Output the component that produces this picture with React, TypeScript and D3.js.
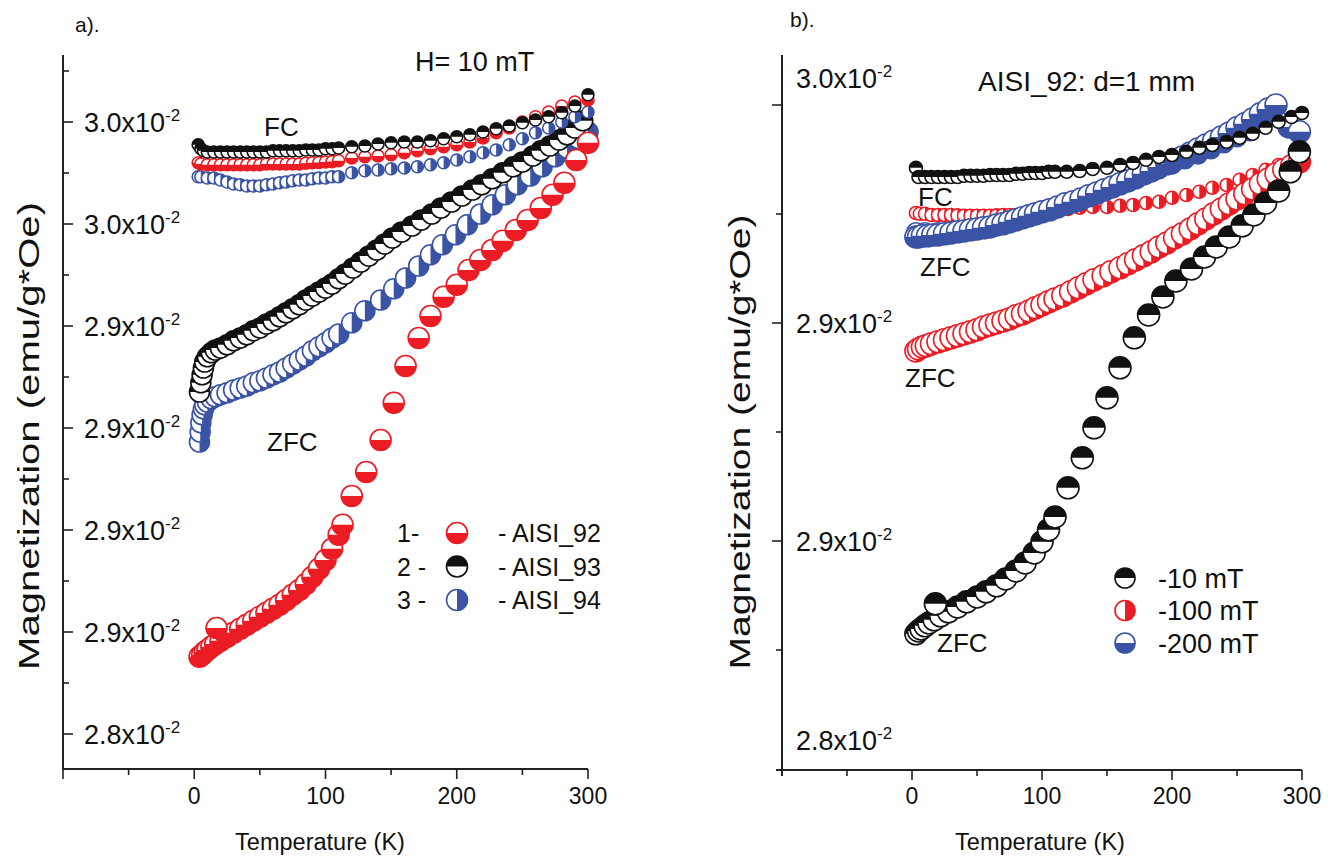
import React from "react";
import * as d3 from "d3";

type Pt = [number, number];
type Side = "top" | "bottom" | "left" | "right";

// ---------------- Panel a data: [T (K), M (x10^-2 emu/g*Oe)] ----------------
const aisi92ZFC: Pt[] = [
  [4, 2.8563], [6, 2.8568], [8, 2.8575], [10, 2.858], [13, 2.8588], [16, 2.8595], [20, 2.8603],
  [25, 2.8613], [30, 2.8623], [35, 2.8633], [40, 2.8643], [45, 2.8653], [50, 2.8663], [55, 2.8673],
  [60, 2.8683], [65, 2.8693], [70, 2.8705], [75, 2.8718], [80, 2.873], [85, 2.8745], [90, 2.8763],
  [95, 2.8783], [100, 2.8805], [105, 2.8833], [110, 2.8868], [113, 2.8893], [120, 2.8965],
  [131, 2.9025], [142, 2.9105], [152, 2.9198], [161, 2.929], [171, 2.936], [180, 2.9415],
  [190, 2.9463], [200, 2.9493], [209, 2.953], [218, 2.9555], [227, 2.958], [235, 2.9603],
  [245, 2.963], [254, 2.9655], [264, 2.9685], [273, 2.9718], [282, 2.9748], [291, 2.9805],
  [300, 2.9848], [17, 2.8635],
];
const aisi93ZFC: Pt[] = [
  [4, 2.9225], [5, 2.9248], [6, 2.9268], [7, 2.9285], [8, 2.93], [10, 2.9313], [13, 2.9323],
  [16, 2.933], [20, 2.9335], [25, 2.9343], [30, 2.9353], [35, 2.936], [40, 2.9368], [45, 2.9378],
  [50, 2.9385], [55, 2.9395], [60, 2.9403], [65, 2.9413], [70, 2.9423], [75, 2.9433], [80, 2.9443],
  [85, 2.9455], [90, 2.9465], [95, 2.9475], [100, 2.9485], [105, 2.9495], [110, 2.9508],
  [115, 2.952], [121, 2.9535], [127, 2.955], [133, 2.9565], [139, 2.958], [145, 2.9595],
  [151, 2.961], [158, 2.9625], [166, 2.964], [173, 2.9655], [181, 2.967], [188, 2.9685],
  [196, 2.97], [204, 2.9715], [212, 2.973], [219, 2.9743], [227, 2.9758], [235, 2.9773],
  [243, 2.9788], [250, 2.98], [258, 2.9815], [264, 2.9828], [271, 2.984], [278, 2.9855],
  [284, 2.9868], [290, 2.9885], [296, 2.9903],
];
const aisi94ZFC: Pt[] = [
  [4, 2.91], [4.5, 2.9125], [5, 2.9148], [6, 2.9168], [7, 2.9183], [8, 2.9193], [10, 2.92],
  [13, 2.9208], [16, 2.9213], [20, 2.9218], [25, 2.9223], [30, 2.923], [35, 2.9235], [40, 2.924],
  [45, 2.9248], [50, 2.9253], [55, 2.926], [60, 2.9268], [65, 2.9275], [70, 2.9285], [75, 2.9295],
  [80, 2.9305], [85, 2.9315], [90, 2.9328], [95, 2.9338], [100, 2.9348], [105, 2.936], [110, 2.937],
  [120, 2.9398], [130, 2.9428], [142, 2.9455], [152, 2.9483], [161, 2.951], [171, 2.954],
  [180, 2.9568], [189, 2.9593], [199, 2.9618], [208, 2.9643], [218, 2.967], [227, 2.9693],
  [237, 2.9718], [246, 2.9743], [256, 2.9765], [265, 2.9788], [275, 2.9813], [284, 2.9835],
  [293, 2.9858], [300, 2.9875],
];
const aisi93FC: Pt[] = [
  [3, 2.9843], [5, 2.9833], [7, 2.9828], [10, 2.9825], [15, 2.9825], [20, 2.9825], [25, 2.9825],
  [30, 2.9825], [35, 2.9825], [40, 2.9825], [45, 2.9825], [50, 2.9825], [55, 2.9825], [60, 2.9828],
  [65, 2.9828], [70, 2.9828], [75, 2.9828], [80, 2.9828], [85, 2.983], [90, 2.983], [95, 2.983],
  [100, 2.9833], [105, 2.9833], [110, 2.9835], [120, 2.9838], [130, 2.984], [140, 2.9845],
  [150, 2.9848], [160, 2.985], [170, 2.985], [180, 2.9853], [190, 2.9858], [200, 2.9863],
  [210, 2.9868], [220, 2.9875], [230, 2.9883], [240, 2.989], [250, 2.9898], [260, 2.9905],
  [270, 2.9913], [280, 2.9923], [290, 2.994], [300, 2.9968],
];
const aisi92FC: Pt[] = [
  [3, 2.9798], [5, 2.9795], [10, 2.9793], [15, 2.9793], [20, 2.9793], [25, 2.9793], [30, 2.9793],
  [35, 2.9793], [40, 2.9793], [45, 2.9793], [50, 2.9793], [55, 2.9795], [60, 2.9795], [65, 2.9795],
  [70, 2.9795], [75, 2.9795], [80, 2.9795], [85, 2.9797], [90, 2.9798], [95, 2.9799], [100, 2.98],
  [105, 2.9801], [110, 2.9803], [120, 2.981], [130, 2.9813], [140, 2.9815], [150, 2.9818],
  [160, 2.9823], [170, 2.9828], [180, 2.9833], [190, 2.9838], [200, 2.9843], [210, 2.985],
  [220, 2.986], [230, 2.9873], [240, 2.9885], [250, 2.99], [260, 2.9913], [270, 2.9925],
  [280, 2.994], [290, 2.995], [300, 2.9955],
];
const aisi94FC: Pt[] = [
  [3, 2.9763], [5, 2.9763], [10, 2.976], [15, 2.976], [20, 2.9755], [25, 2.975], [30, 2.9745],
  [35, 2.9743], [40, 2.974], [45, 2.974], [50, 2.974], [55, 2.9743], [60, 2.9745], [65, 2.9748],
  [70, 2.975], [75, 2.9753], [80, 2.9755], [85, 2.9755], [90, 2.9758], [95, 2.976], [100, 2.976],
  [105, 2.9763], [110, 2.9763], [120, 2.9773], [130, 2.9778], [140, 2.978], [150, 2.9783],
  [160, 2.9785], [170, 2.9788], [180, 2.9793], [190, 2.9798], [200, 2.9805], [210, 2.9813],
  [220, 2.9823], [230, 2.983], [240, 2.9843], [250, 2.9858], [260, 2.9873], [270, 2.9885],
  [280, 2.99], [290, 2.9913], [300, 2.9925],
];

// ---------------- Panel b data: AISI_92, d = 1 mm ----------------
const m10ZFC: Pt[] = [
  [3, 2.8478], [5, 2.8485], [7, 2.849], [10, 2.8498], [13, 2.8505], [17, 2.8513], [22, 2.8523],
  [28, 2.8533], [35, 2.8545], [42, 2.8558], [50, 2.857], [57, 2.8583], [65, 2.8598], [72, 2.8615],
  [80, 2.8635], [87, 2.8655], [94, 2.868], [100, 2.8708], [105, 2.8738], [110, 2.877],
  [120, 2.8843], [131, 2.8918], [140, 2.8993], [150, 2.9068], [160, 2.9143], [171, 2.9218],
  [182, 2.9275], [193, 2.932], [203, 2.936], [215, 2.939], [225, 2.942], [234, 2.9445],
  [244, 2.947], [254, 2.9498], [263, 2.9525], [272, 2.9555], [282, 2.9585], [291, 2.9633],
  [298, 2.9683], [18, 2.8553],
];
const m10FC: Pt[] = [
  [3, 2.9643], [5, 2.962], [10, 2.962], [15, 2.962], [20, 2.962], [25, 2.962], [30, 2.962],
  [35, 2.962], [40, 2.9623], [45, 2.9623], [50, 2.9623], [55, 2.9623], [60, 2.9625], [65, 2.9625],
  [70, 2.9625], [75, 2.9625], [80, 2.9628], [85, 2.9628], [90, 2.963], [95, 2.963], [100, 2.963],
  [105, 2.9633], [110, 2.9633], [119, 2.9633], [129, 2.9635], [139, 2.964], [150, 2.9643],
  [160, 2.965], [170, 2.9655], [180, 2.9663], [190, 2.967], [200, 2.9675], [211, 2.9683],
  [221, 2.9693], [231, 2.97], [242, 2.9708], [252, 2.9718], [262, 2.9728], [272, 2.9743],
  [282, 2.9758], [292, 2.977], [300, 2.978],
];
const m100ZFC: Pt[] = [
  [3, 2.9185], [5, 2.919], [8, 2.9195], [11, 2.9198], [15, 2.9203], [20, 2.9208], [25, 2.9213],
  [30, 2.9218], [35, 2.9223], [40, 2.9228], [45, 2.9233], [50, 2.9238], [55, 2.9245], [60, 2.925],
  [65, 2.9255], [70, 2.926], [75, 2.9265], [80, 2.9273], [85, 2.9278], [90, 2.9285], [95, 2.9293],
  [100, 2.93], [105, 2.9308], [110, 2.9315], [116, 2.9323], [122, 2.9333], [128, 2.9343],
  [134, 2.9353], [140, 2.9363], [147, 2.9373], [153, 2.9383], [160, 2.9393], [166, 2.9403],
  [172, 2.9413], [178, 2.9423], [184, 2.9433], [190, 2.9445], [196, 2.9455], [202, 2.9468],
  [208, 2.9478], [214, 2.949], [220, 2.9503], [226, 2.9515], [232, 2.9528], [238, 2.954],
  [244, 2.9553], [250, 2.9565], [256, 2.9578], [262, 2.959], [268, 2.9603], [274, 2.9615],
  [280, 2.9628], [286, 2.9638], [292, 2.9648], [298, 2.9658],
];
const m100FC: Pt[] = [
  [3, 2.953], [6, 2.9528], [10, 2.9528], [15, 2.9525], [20, 2.9525], [25, 2.9525], [30, 2.9525],
  [35, 2.9524], [40, 2.9523], [45, 2.9523], [50, 2.9523], [55, 2.9523], [60, 2.9523], [65, 2.9524],
  [70, 2.9525], [75, 2.9525], [80, 2.9525], [85, 2.9527], [90, 2.9528], [95, 2.953], [100, 2.9533],
  [110, 2.9535], [120, 2.954], [129, 2.9543], [139, 2.9545], [150, 2.9545], [160, 2.9548],
  [170, 2.955], [180, 2.9555], [190, 2.9558], [200, 2.9568], [211, 2.9575], [221, 2.9583],
  [231, 2.9593], [242, 2.96], [252, 2.9613], [262, 2.9625], [272, 2.9638], [282, 2.965],
  [292, 2.9658], [299, 2.9663],
];
const m200ZFC: Pt[] = [
  [3, 2.947], [5, 2.947], [8, 2.9473], [12, 2.9473], [16, 2.9475], [20, 2.9475], [25, 2.9478],
  [30, 2.948], [35, 2.9483], [40, 2.9485], [45, 2.9488], [50, 2.949], [55, 2.9493], [60, 2.9495],
  [65, 2.95], [70, 2.9503], [75, 2.9508], [80, 2.9513], [85, 2.9518], [90, 2.9523], [95, 2.9528],
  [100, 2.9533], [106, 2.9538], [112, 2.9545], [118, 2.9553], [124, 2.9558], [130, 2.9565],
  [136, 2.9573], [142, 2.958], [148, 2.9588], [154, 2.9595], [160, 2.9603], [166, 2.961],
  [172, 2.9618], [178, 2.9628], [184, 2.9635], [190, 2.9645], [196, 2.9653], [202, 2.9663],
  [208, 2.967], [214, 2.968], [220, 2.969], [226, 2.97], [232, 2.971], [238, 2.972], [244, 2.973],
  [250, 2.9743], [256, 2.9753], [262, 2.9765], [268, 2.9778], [274, 2.979], [280, 2.98],
  [290, 2.9745], [298, 2.9733],
];
const m200FC: Pt[] = [
  [3, 2.9483], [10, 2.9483], [20, 2.9483], [30, 2.9485], [40, 2.9488], [50, 2.9493], [60, 2.9498],
  [70, 2.9505], [80, 2.9513], [90, 2.952], [100, 2.953], [110, 2.954], [120, 2.955], [130, 2.9563],
  [140, 2.9575], [150, 2.9588], [160, 2.96], [170, 2.9613], [180, 2.9625], [190, 2.9638],
  [200, 2.965], [210, 2.9663], [220, 2.9675], [230, 2.9688], [240, 2.9703], [250, 2.9718],
  [260, 2.9733], [270, 2.9753], [280, 2.9773],
];

// ---------------- Axis ticks ----------------
const xMajor = [0, 100, 200, 300];
const xMinor = [-50, 50, 150, 250];
const aYMajor = [2.99, 2.9645, 2.939, 2.9135, 2.888, 2.8625, 2.837];
const aYMinor = [3.00275, 2.97725, 2.95175, 2.92625, 2.90075, 2.87525, 2.84975];
const bYMajor = [2.98, 2.9255, 2.871];
const bYMinor = [2.95275, 2.89825, 2.84375];
const bYLabelAt = [2.98675, 2.9255, 2.871, 2.82125];

const aLegend = ["AISI_92", "AISI_93", "AISI_94"];
const aLegendNum = ["1-", "2 -", "3 -"];
const bLegend = ["-10 mT", "-100 mT", "-200 mT"];

// ---------------- Style ----------------
const FONT = '"Liberation Sans", Arial, Helvetica, sans-serif';
const RED = "#ec1c24";
const BLUE = "#3a53a4";
const BLACK = "#111111";

const ANG: Record<Side, [number, number]> = {
  top: [-Math.PI / 2, Math.PI / 2],
  bottom: [Math.PI / 2, (3 * Math.PI) / 2],
  right: [0, Math.PI],
  left: [Math.PI, 2 * Math.PI],
};

function Marker({ x, y, r, color, side }: { x: number; y: number; r: number; color: string; side: Side }) {
  const d = (d3.arc() as any)({ innerRadius: 0, outerRadius: r, startAngle: ANG[side][0], endAngle: ANG[side][1] });
  return (
    <g transform={`translate(${x},${y})`}>
      <circle r={r} fill="#fff" stroke={color} strokeWidth={1.6} />
      <path d={d} fill={color} />
    </g>
  );
}

const fmt = d3.format(".1f");

function SciLabel({ x, y, v }: { x: number; y: number; v: number }) {
  return (
    <text x={x} y={y} dy="0.36em" fontSize={27} fontFamily={FONT} fill="#111">
      {fmt(v)}x10<tspan dy={-11} fontSize={17}>-2</tspan>
    </text>
  );
}

export default function App() {
  // Panel a scales
  const ax = d3.scaleLinear().domain([-100, 300]).range([63, 588]);
  const ay = d3.scaleLinear().domain([2.82825, 3.00675]).range([769, 55]);
  // Panel b scales
  const bx = d3.scaleLinear().domain([-100, 300]).range([782, 1302]);
  const by = d3.scaleLinear().domain([2.81375, 2.9925]).range([770, 55]);

  const aSeries = [
    { data: aisi94ZFC, color: BLUE, side: "right" as Side, r: 10 },
    { data: aisi93ZFC, color: BLACK, side: "top" as Side, r: 10 },
    { data: aisi92ZFC, color: RED, side: "bottom" as Side, r: 10.5 },
    { data: aisi94FC, color: BLUE, side: "right" as Side, r: 6 },
    { data: aisi92FC, color: RED, side: "bottom" as Side, r: 6 },
    { data: aisi93FC, color: BLACK, side: "top" as Side, r: 6 },
  ];
  const bSeries = [
    { data: m100FC, color: RED, side: "right" as Side, r: 6.5 },
    { data: m100ZFC, color: RED, side: "right" as Side, r: 11 },
    { data: m200FC, color: BLUE, side: "bottom" as Side, r: 9 },
    { data: m200ZFC, color: BLUE, side: "bottom" as Side, r: 11 },
    { data: m10FC, color: BLACK, side: "top" as Side, r: 6.5 },
    { data: m10ZFC, color: BLACK, side: "top" as Side, r: 11 },
  ];

  const aLegendSides: Side[] = ["bottom", "top", "right"];
  const aLegendColors = [RED, BLACK, BLUE];
  const bLegendSides: Side[] = ["top", "right", "bottom"];
  const bLegendColors = [BLACK, RED, BLUE];

  const axisStroke = { stroke: "#222", strokeWidth: 2 };
  const tickStroke = { stroke: "#222", strokeWidth: 1.6 };

  return (
    <svg
      width={1342}
      height={859}
      style={{ position: "absolute", left: 0, top: 0, background: "#fff" }}
      fontFamily={FONT}
      fill="#111"
    >
      <rect width={1342} height={859} fill="#fff" />

      {/* ================= Panel a ================= */}
      <text x={75} y={32} fontSize={21}>a).</text>
      <text x={415} y={71} fontSize={27}>H= 10 mT</text>

      {aSeries.map((s, i) => (
        <g key={"as" + i}>
          {s.data.map((p, j) => (
            <Marker key={j} x={ax(p[0])} y={ay(p[1])} r={s.r} color={s.color} side={s.side} />
          ))}
        </g>
      ))}

      {/* axes a */}
      <line x1={63} x2={63} y1={55} y2={769} {...axisStroke} />
      <line x1={62} x2={588} y1={769} y2={769} {...axisStroke} />
      {xMajor.map((t) => (
        <g key={"axM" + t}>
          <line x1={ax(t)} x2={ax(t)} y1={769} y2={779} {...tickStroke} />
          <text x={ax(t)} y={804} fontSize={23} textAnchor="middle">{t}</text>
        </g>
      ))}
      {xMinor.map((t) => (
        <line key={"axm" + t} x1={ax(t)} x2={ax(t)} y1={769} y2={775} {...tickStroke} />
      ))}
      <line x1={63} x2={63} y1={769} y2={779} {...tickStroke} />
      {aYMajor.map((v, i) => (
        <g key={"ayM" + i}>
          <line x1={63} x2={73} y1={ay(v)} y2={ay(v)} {...tickStroke} />
          <SciLabel x={84} y={ay(v)} v={v} />
        </g>
      ))}
      {aYMinor.map((v, i) => (
        <line key={"aym" + i} x1={63} x2={69} y1={ay(v)} y2={ay(v)} {...tickStroke} />
      ))}
      <text x={320} y={850} fontSize={23.5} textAnchor="middle">Temperature (K)</text>
      <text
        transform={`translate(39,436) rotate(-90)`}
        fontSize={30}
        textAnchor="middle"
        textLength={468}
        lengthAdjust="spacingAndGlyphs"
      >
        Magnetization (emu/g*Oe)
      </text>

      <text x={264} y={136} fontSize={26}>FC</text>
      <text x={267} y={451} fontSize={26}>ZFC</text>

      {aLegend.map((name, i) => (
        <g key={"al" + i}>
          <text x={397} y={533 + i * 33.5} dy="0.36em" fontSize={25}>{aLegendNum[i]}</text>
          <Marker x={457} y={533 + i * 33.5} r={10.5} color={aLegendColors[i]} side={aLegendSides[i]} />
          <text x={498} y={533 + i * 33.5} dy="0.36em" fontSize={25}>- {name}</text>
        </g>
      ))}

      {/* ================= Panel b ================= */}
      <text x={790} y={27} fontSize={21}>b).</text>
      <text x={978} y={91} fontSize={28}>AISI_92: d=1 mm</text>

      {bSeries.map((s, i) => (
        <g key={"bs" + i}>
          {s.data.map((p, j) => (
            <Marker key={j} x={bx(p[0])} y={by(p[1])} r={s.r} color={s.color} side={s.side} />
          ))}
        </g>
      ))}

      <line x1={782} x2={782} y1={55} y2={776} {...axisStroke} />
      <line x1={776} x2={1302} y1={770} y2={770} {...axisStroke} />
      {xMajor.map((t) => (
        <g key={"bxM" + t}>
          <line x1={bx(t)} x2={bx(t)} y1={770} y2={780} {...tickStroke} />
          <text x={bx(t)} y={804} fontSize={23} textAnchor="middle">{t}</text>
        </g>
      ))}
      {xMinor.map((t) => (
        <line key={"bxm" + t} x1={bx(t)} x2={bx(t)} y1={770} y2={776} {...tickStroke} />
      ))}
      {bYMajor.map((v, i) => (
        <line key={"byM" + i} x1={772} x2={782} y1={by(v)} y2={by(v)} {...tickStroke} />
      ))}
      {bYMinor.map((v, i) => (
        <line key={"bym" + i} x1={776} x2={782} y1={by(v)} y2={by(v)} {...tickStroke} />
      ))}
      {bYLabelAt.map((v, i) => (
        <SciLabel key={"byl" + i} x={796} y={by(v)} v={v} />
      ))}
      <text x={1040} y={850} fontSize={23.5} textAnchor="middle">Temperature (K)</text>
      <text
        transform={`translate(750,442) rotate(-90)`}
        fontSize={30}
        textAnchor="middle"
        textLength={455}
        lengthAdjust="spacingAndGlyphs"
      >
        Magnetization (emu/g*Oe)
      </text>

      <text x={918} y={206} fontSize={26}>FC</text>
      <text x={920} y={276} fontSize={26}>ZFC</text>
      <text x={905} y={387} fontSize={26}>ZFC</text>
      <text x={937} y={652} fontSize={26}>ZFC</text>

      {bLegend.map((name, i) => (
        <g key={"bl" + i}>
          <Marker x={1125} y={578 + i * 32.5} r={10} color={bLegendColors[i]} side={bLegendSides[i]} />
          <text x={1158} y={578 + i * 32.5} dy="0.36em" fontSize={27}>{name}</text>
        </g>
      ))}
    </svg>
  );
}
